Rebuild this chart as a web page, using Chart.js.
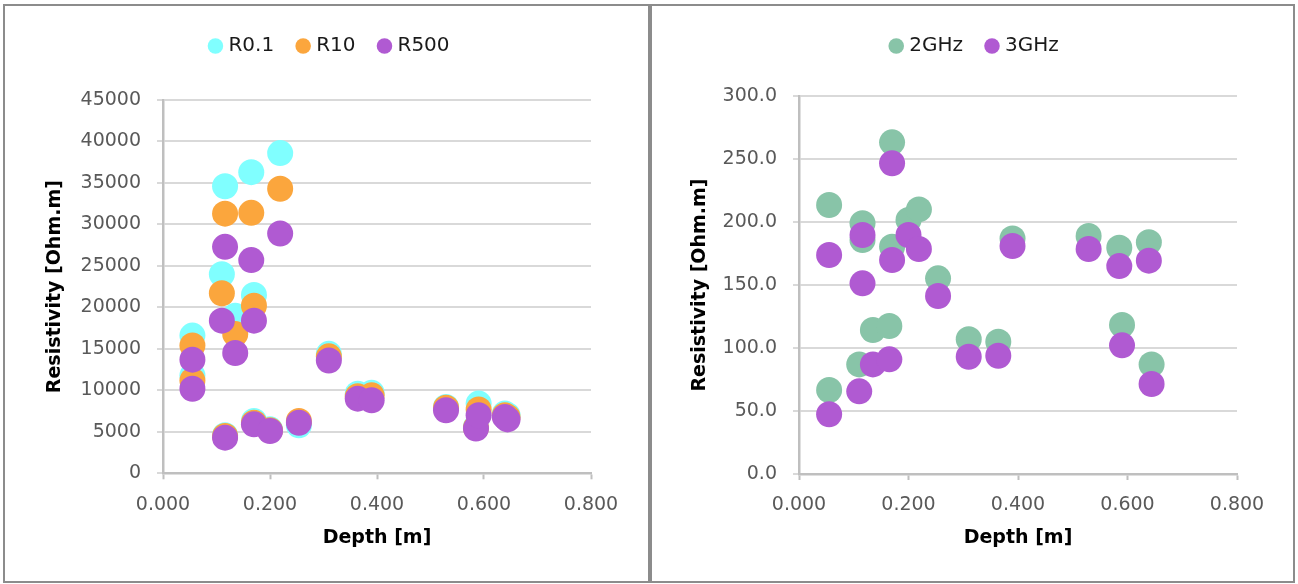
<!DOCTYPE html>
<html>
<head>
<meta charset="utf-8">
<title>Resistivity vs depth</title>
<script src="https://cdn.jsdelivr.net/npm/chart.js@4.4.1/dist/chart.umd.min.js"></script>
<style>
  html, body { margin: 0; padding: 0; background: #ffffff; }
  body { width: 1298px; height: 584px; position: relative; overflow: hidden; }
  .panel { position: absolute; top: 4px; height: 575px; border: 2px solid #8c8c8c; background: #ffffff; }
  #leftPanel { left: 3px; width: 643px; }
  #rightPanel { left: 650px; width: 641px; }
  canvas { display: block; }
</style>
</head>
<body>
<div class="panel" id="leftPanel"><canvas id="lowFreq" width="643" height="575"></canvas></div>
<div class="panel" id="rightPanel"><canvas id="highFreq" width="641" height="575"></canvas></div>

<script>
// Sample depths in metres (shared by both panels)
const depth = [0.055, 0.055, 0.110, 0.116, 0.116, 0.135, 0.165, 0.170, 0.170, 0.200,
               0.219, 0.254, 0.310, 0.364, 0.390, 0.529, 0.585, 0.590, 0.639, 0.644];

// Resistivity [Ohm.m] at low frequencies
const r01  = [16600, 11800, 24000, 34600, 4600, 19000, 36300, 21500, 6300, 5300,
              38600, 5800, 14400, 9600, 9700, 8000, 5600, 8400, 7200, 7000];
const r10  = [15400, 11200, 21700, 31300, 4500, 16800, 31400, 20200, 6100, 5200,
              34300, 6300, 14100, 9300, 9400, 7900, 5500, 7700, 7000, 6800];
const r500 = [13700, 10200, 18400, 27300, 4300, 14500, 25700, 18400, 5900, 5100,
              28900, 6100, 13600, 9000, 8800, 7600, 5400, 7000, 6800, 6500];

// Resistivity [Ohm.m] at radar frequencies
const ghz2 = [213.5, 66.7, 87.0, 199.0, 185.7, 114.3, 117.5, 263.2, 180.4, 201.6,
              210.0, 155.3, 106.9, 105.0, 187.0, 188.9, 179.6, 118.3, 183.9, 87.0];
const ghz3 = [173.8, 47.4, 65.6, 189.7, 151.3, 87.0, 91.0, 246.6, 169.8, 189.7,
              178.6, 141.3, 93.1, 93.9, 181.0, 178.6, 165.0, 102.1, 169.3, 71.4];

// Axis ticks
const depthTicks = [0, 0.2, 0.4, 0.6, 0.8];
const lowTicks   = [0, 5000, 10000, 15000, 20000, 25000, 30000, 35000, 40000, 45000];
const highTicks  = [0, 50, 100, 150, 200, 250, 300];

const COLORS = { r01: '#80ffff', r10: '#fba63d', r500: '#b05ad2', ghz2: '#88c4a8', ghz3: '#b05ad2' };

Chart.defaults.font.family = "'DejaVu Sans', sans-serif";

function points(values) {
  return depth.map((d, i) => ({ x: d, y: values[i] }));
}

// Later series are drawn on top (lower "order"), legend keeps the dataset order
function series(label, values, color, order) {
  return {
    label, data: points(values), order,
    backgroundColor: color, borderColor: color, borderWidth: 0,
    pointRadius: 13, pointHoverRadius: 13, pointStyle: 'circle'
  };
}

// Adds blank space between the legend row and the plot
function legendSpacer(gap) {
  return {
    id: 'legendSpacer',
    beforeInit(chart) {
      const fit = chart.legend.fit;
      chart.legend.fit = function () { fit.call(this); this.height += gap; };
    }
  };
}

function scatterPanel(canvasId, datasets, o) {
  return new Chart(document.getElementById(canvasId), {
    type: 'scatter',
    data: { datasets },
    plugins: [legendSpacer(o.gap)],
    options: {
      responsive: false,
      animation: false,
      layout: { padding: { left: o.padL, right: o.padR, top: 4, bottom: 0 } },
      plugins: {
        legend: {
          position: 'top',
          labels: {
            usePointStyle: true, boxWidth: 6, boxHeight: 11, padding: 26,
            color: '#1a1a1a', font: { size: 20 },
            sort: (a, b) => a.datasetIndex - b.datasetIndex
          }
        },
        tooltip: { enabled: false }
      },
      scales: {
        x: {
          type: 'linear', min: 0, max: 0.8,
          afterBuildTicks: s => { s.ticks = depthTicks.map(v => ({ value: v })); },
          afterFit: s => { s.height = o.xH; },
          ticks: { callback: v => Number(v).toFixed(3), color: '#595959', font: { size: 19 }, padding: 14, maxRotation: 0, autoSkip: false },
          grid: { drawOnChartArea: false, drawTicks: true, tickLength: 6, tickColor: '#bfbfbf', tickWidth: 2 },
          border: { color: '#bfbfbf', width: 2.5 },
          title: { display: true, text: 'Depth [m]', color: '#000000', font: { size: 19, weight: 'bold' }, padding: { top: 0, bottom: 32 } }
        },
        y: {
          type: 'linear', min: 0, max: o.yMax,
          afterBuildTicks: s => { s.ticks = o.yTicks.map(v => ({ value: v })); },
          afterFit: s => { s.width = o.yW; },
          ticks: { callback: o.yFmt, color: '#595959', font: { size: 19 }, padding: 16, autoSkip: false },
          grid: { color: '#d9d9d9', lineWidth: 2, tickLength: 6, tickColor: '#d9d9d9' },
          border: { color: '#bfbfbf', width: 2.5 },
          title: { display: true, text: 'Resistivity [Ohm.m]', color: '#000000', font: { size: 19, weight: 'bold' }, padding: { top: o.titlePad, bottom: 0 } }
        }
      }
    }
  });
}

scatterPanel('lowFreq', [
  series('R0.1', r01, COLORS.r01, 3),
  series('R10', r10, COLORS.r10, 2),
  series('R500', r500, COLORS.r500, 1)
], {
  padL: 66, padR: 57, yW: 92, xH: 107.7, gap: 34, titlePad: -27,
  yMax: 45000, yTicks: lowTicks, yFmt: v => String(v)
});

scatterPanel('highFreq', [
  series('2GHz', ghz2, COLORS.ghz2, 2),
  series('3GHz', ghz3, COLORS.ghz3, 1)
], {
  padL: 63, padR: 56, yW: 84, xH: 107, gap: 30, titlePad: -26,
  yMax: 300, yTicks: highTicks, yFmt: v => Number(v).toFixed(1)
});
</script>
</body>
</html>
